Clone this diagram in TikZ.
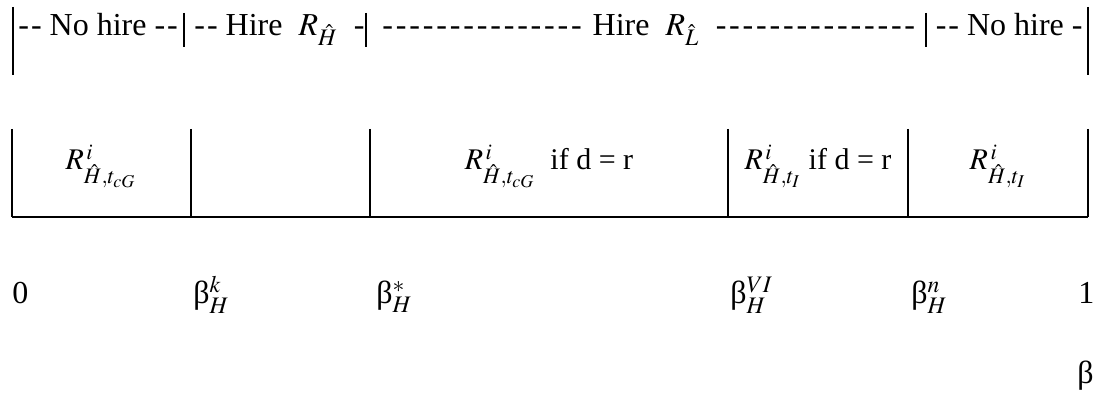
\documentclass[tikz,border=0pt]{standalone}
\usepackage{mathptmx}
\usepackage[no-math]{fontspec}
\setmainfont{Liberation Serif}[Ligatures=TeXOff]
\usetikzlibrary{positioning}
\newcommand{\dashfill}{\xleaders\hbox{-\kern1.2pt}\hfill}

\begin{document}
\begin{tikzpicture}[
  x=0.5pt, y=-0.5pt,
  lbl/.style={inner sep=0pt, font=\fontsize{16}{18}\selectfont},
  cell/.style={inner sep=0pt, font=\fontsize{15}{17}\selectfont},
  bar/.style={line width=1pt},
  tick/.style={line width=1pt}
]
\useasboundingbox (0,0) rectangle (1096,400);
% top: hiring regions
\draw[bar] (13,7) -- (13,75);
\draw[bar] (1088,7) -- (1088,75);
\draw[bar] (184,13) -- (184,47);
\draw[bar] (366,13) -- (366,47);
\draw[bar] (926,13) -- (926,47);
\node[lbl, anchor=base west] (nohireL) at (18,36) {-\kern1pt- No hire -\kern1pt-};
\node[lbl, anchor=base west] (hireH) at (194,36) {-\kern1pt- Hire\ \ $R_{\hat H}$\ \ -};
\node[lbl, anchor=base] (hireL) at (650,36) {\makebox[268pt]{\dashfill\ Hire\ \ $R_{\hat L}$\ \ \dashfill}};
\node[lbl, anchor=base east] (nohireR) at (1083,36) {-\kern1pt- No hire\ -};
% middle: strategy cells
\draw[tick] (12,217) -- (1088,217);
\foreach \x in {12,191,370,728,908,1088}
  \draw[tick] (\x,129) -- (\x,217);
\node[cell, anchor=base] (cellA) at (101,170) {$R^{\,i}_{\hat H, t_{cG}}$};
\node[cell, anchor=base] (cellC) at (549,170) {$R^{\,i}_{\hat H, t_{cG}}$\ \ if d = r};
\node[cell, anchor=base] (cellD) at (818,170) {$R^{\,i}_{\hat H, t_I}$\ if d = r};
\node[cell, anchor=base] (cellE) at (998,170) {$R^{\,i}_{\hat H, t_I}$};
% bottom: thresholds
\node[lbl, anchor=base west] (b0) at (12,304) {0};
\node[lbl, anchor=base west] (bk) at (193,304) {β$^{k}_{H}$};
\node[lbl, anchor=base west] (bs) at (376,304) {β$^{*}_{H}$};
\node[lbl, anchor=base west] (bvi) at (730,304) {β$^{VI}_{H}$};
\node[lbl, anchor=base west] (bn) at (911,304) {β$^{n}_{H}$};
\node[lbl, anchor=base west] (b1) at (1078,304) {1};
\node[lbl, anchor=base west] (beta) at (1077,383) {β};
\end{tikzpicture}
\end{document}
